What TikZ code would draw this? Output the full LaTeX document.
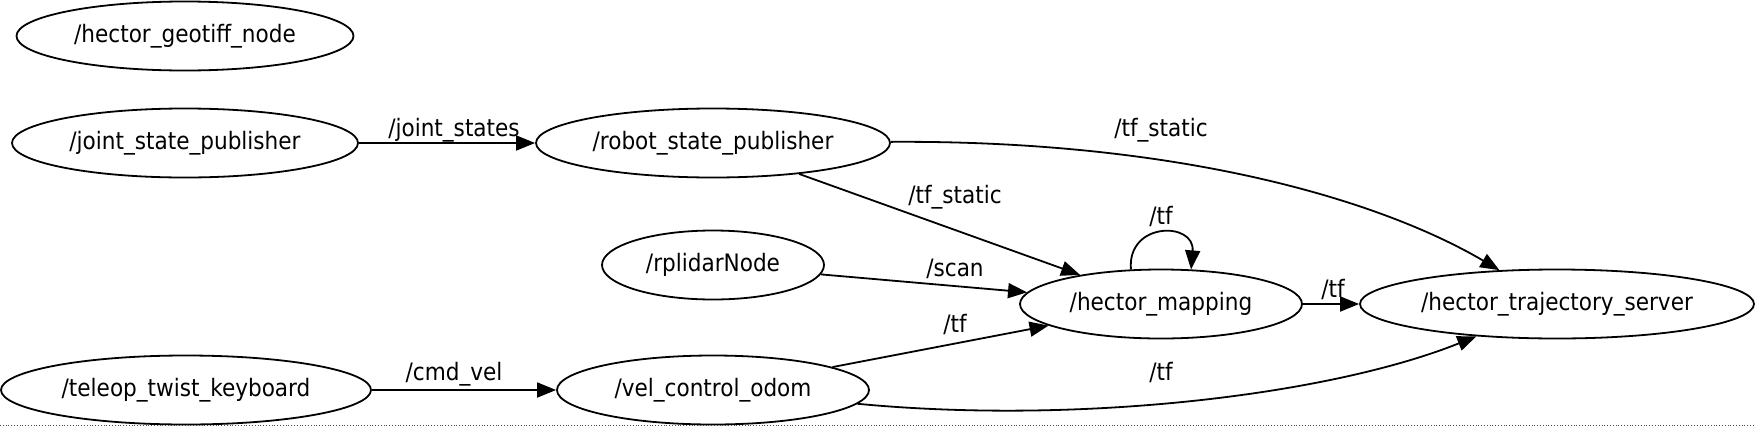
\documentclass[tikz,border=0pt]{standalone}
\usepackage{fontspec}
\setmainfont{DejaVu Sans Condensed}
\usetikzlibrary{arrows.meta,shapes.geometric}

\begin{document}
\begin{tikzpicture}[x=1pt,y=-1pt,
    rosnode/.style={draw,ellipse,line width=1.8pt,inner sep=0pt,minimum height=69pt,font=\fontsize{24}{28}\selectfont},
    topic/.style={-{Triangle[length=19pt,width=15pt]},line width=1.8pt},
    lbl/.style={font=\fontsize{24}{28}\selectfont,inner sep=0pt}]

\useasboundingbox (0,0) rectangle (1756,426);

% Nodes
\node[rosnode,minimum width=337pt] (geotiff) at (185,36) {/hector\_geotiff\_node};
\node[rosnode,minimum width=346pt] (jsp) at (185,143) {/joint\_state\_publisher};
\node[rosnode,minimum width=354pt] (rsp) at (713,143) {/robot\_state\_publisher};
\node[rosnode,minimum width=222pt] (lidar) at (713,265) {/rplidarNode};
\node[rosnode,minimum width=282pt] (hmap) at (1161,304) {/hector\_mapping};
\node[rosnode,minimum width=394pt] (traj) at (1557,304) {/hector\_trajectory\_server};
\node[rosnode,minimum width=370pt] (teleop) at (186,390) {/teleop\_twist\_keyboard};
\node[rosnode,minimum width=312pt] (velodom) at (713,390) {/vel\_control\_odom};

% Topics
\draw[topic] (jsp) -- (rsp);
\node[lbl] (ljs) at (454,130) {/joint\_states};

\draw[topic] (rsp) .. controls (1180,140) and (1380,200) .. (traj);
\node[lbl] (ltfs1) at (1161,130) {/tf\_static};

\draw[topic] (rsp) -- (hmap);
\node[lbl] (ltfs2) at (955,197) {/tf\_static};

\draw[topic] (lidar) -- (hmap);
\node[lbl] (lscan) at (955,269) {/scan};

% Self loop
\draw[topic] (hmap.131) .. controls +(-4,-48) and +(4,-48) .. (hmap.49);
\node[lbl] (lloop) at (1161,216) {/tf};

\draw[topic] (hmap) -- (traj);
\node[lbl] (ltf1) at (1333,289) {/tf};

\draw[topic] (velodom) -- (hmap);
\node[lbl] (ltf2) at (955,324) {/tf};

\draw[topic] (velodom) .. controls (1080,425) and (1330,395) .. (traj);
\node[lbl] (ltf3) at (1161,372) {/tf};

\draw[topic] (teleop) -- (velodom);
\node[lbl] (lcmd) at (454,374) {/cmd\_vel};

% Bottom edge
\draw[black!70,dotted,line width=0.8pt] (0,425) -- (1756,425);

\end{tikzpicture}
\end{document}
